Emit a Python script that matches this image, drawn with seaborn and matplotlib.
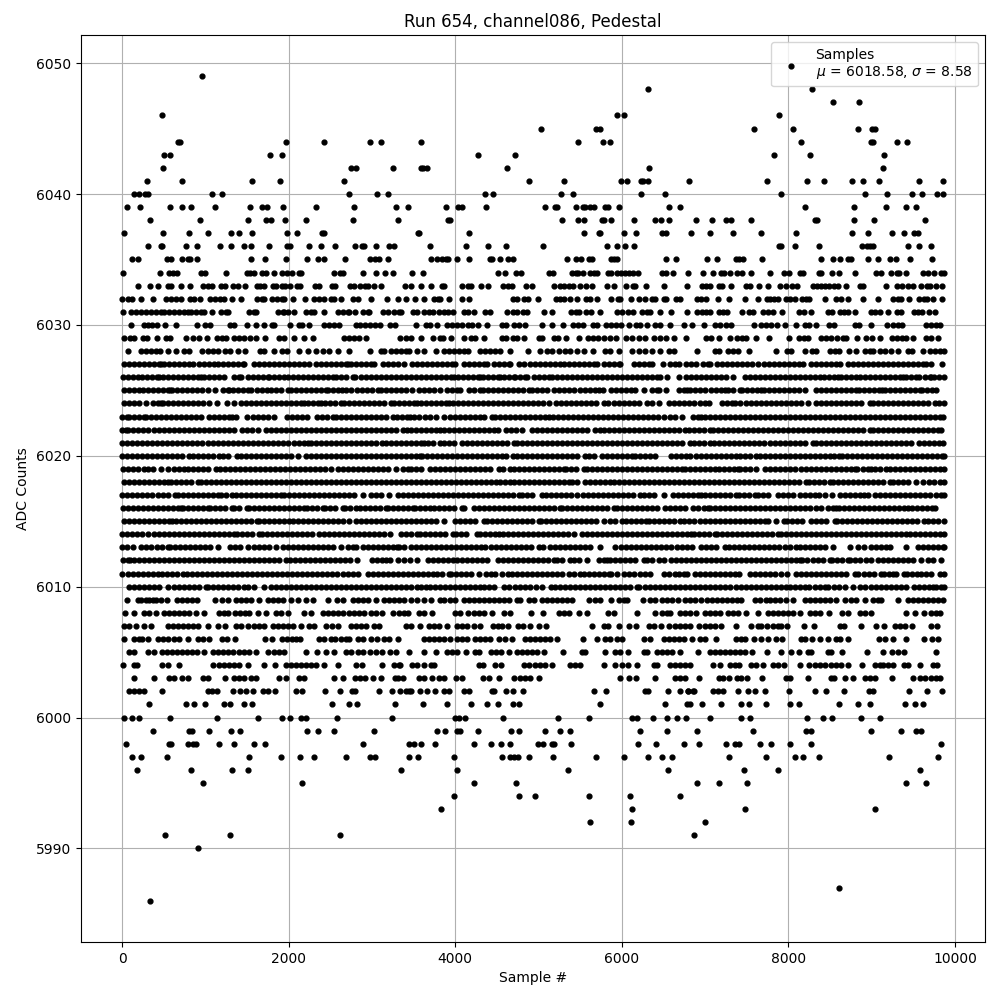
import pandas as pd
import matplotlib
matplotlib.use("Agg")
import matplotlib.pyplot as plt
import seaborn as sns

# Sample positions, one list per ADC level
s6049 = [964]
s6048 = [6309, 8283]
s6047 = [8535, 8847]
s6046 = [484, 5937, 6021, 7887]
s6045 = [5025, 5685, 5733, 7587, 8055, 8835, 9003, 9039]
s6044 = [668, 700, 1972, 2428, 2980, 3112, 3585, 5469, 5769, 5853, 8151, 8991, 9015, 9303, 9423]
s6043 = [508, 572, 1780, 1924, 4269, 4713, 7827, 8259, 9147]
s6042 = [496, 2748, 2812, 3256, 3585, 3609, 3657, 4617, 6321, 9135]
s6041 = [304, 724, 1564, 1900, 2668, 4881, 5301, 5985, 6057, 6225, 6249, 6309, 6807, 7743, 8223, 8427, 8763, 8895, 9087, 9567, 9855]
s6040 = [148, 208, 280, 316, 1084, 1204, 2728, 3064, 3196, 4353, 4449, 5265, 5409, 6225, 6513, 7911, 8919, 9183, 9483, 9603, 9783, 9855]
s6039 = [64, 220, 580, 724, 832, 1120, 1540, 1684, 1744, 1936, 2332, 2788, 3292, 3429, 3885, 4029, 4077, 4365, 5073, 5193, 5217, 5445, 5529, 5553, 5613, 5661, 5793, 5829, 5961, 6561, 6693, 8199, 8787, 9171, 9411, 9531]
s6038 = [340, 940, 1516, 1732, 1792, 1960, 2212, 2776, 3316, 3909, 3933, 5277, 5469, 5541, 5757, 5781, 5865, 6141, 6393, 6465, 6561, 6891, 7083, 7251, 7311, 7551, 8319, 8343, 8787, 9027, 9639]
s6037 = [28, 496, 808, 1036, 1312, 1408, 1564, 1984, 2104, 2404, 2428, 3549, 3561, 4161, 5541, 5721, 5733, 6021, 6165, 6477, 6525, 6825, 7059, 7335, 7671, 8091, 8763, 8955, 9243, 9387, 9507, 9555]
s6036 = [316, 468, 484, 772, 904, 1180, 1312, 1468, 1552, 1768, 1984, 2020, 2248, 2392, 2560, 2800, 2884, 2908, 3052, 3208, 3268, 3693, 4125, 4389, 4605, 5049, 5817, 5937, 6033, 6141, 7887, 7911, 8079, 8367, 8883, 8943, 8979, 9015, 9435, 9567, 9711]
s6035 = [124, 196, 544, 592, 724, 796, 820, 904, 1552, 1720, 1972, 2224, 2356, 2428, 2680, 2980, 3040, 3088, 3196, 3705, 3777, 3837, 3885, 3909, 4017, 4161, 4413, 4437, 4533, 4629, 4689, 5337, 5445, 5505, 5601, 5637, 5865, 5901, 5937, 6525, 6645, 7023, 7143, 7371, 7407, 7455, 7683, 8391, 8535, 8619, 8715, 8751, 8955, 9075, 9219, 9291, 9459, 9723]
s6034 = [16, 460, 568, 616, 664, 952, 1000, 1252, 1504, 1540, 1588, 1684, 1732, 1828, 1924, 1984, 2044, 2128, 2152, 2548, 2620, 2656, 2896, 3052, 3160, 3256, 3477, 3609, 4509, 4593, 4725, 4785, 5121, 5169, 5397, 5445, 5469, 5529, 5613, 5661, 5697, 5829, 5865, 5937, 5985, 6033, 6081, 6129, 6189, 6477, 6525, 6609, 6795, 6975, 7095, 7191, 7227, 7299, 7383, 7443, 7551, 7779, 7947, 8007, 8139, 8175, 8367, 8391, 8523, 8607, 8799, 9051, 9111, 9231, 9303, 9327, 9411, 9615, 9675, 9747, 9831, 9867]
s6033 = [188, 340, 436, 556, 592, 708, 820, 968, 1036, 1084, 1192, 1240, 1336, 1396, 1480, 1624, 1660, 1708, 1816, 1852, 1924, 1960, 2020, 2104, 2140, 2320, 2368, 2524, 2560, 2740, 2788, 2860, 2920, 2956, 3028, 3112, 3393, 3465, 3585, 3705, 3837, 3861, 4077, 4149, 4185, 4305, 4389, 4569, 4629, 4677, 4845, 4917, 5181, 5253, 5301, 5361, 5409, 5493, 5565, 5637, 5817, 5901, 6045, 6129, 6153, 6285, 6501, 6783, 6963, 7011, 7059, 7167, 7203, 7311, 7491, 7539, 7647, 7755, 7899, 7971, 8043, 8103, 8295, 8343, 8391, 8439, 8487, 8547, 8595, 8691, 8859, 8895, 9171, 9303, 9363, 9435, 9495, 9591, 9663, 9699, 9771, 9843]
s6032 = [4, 76, 124, 232, 376, 532, 592, 652, 708, 820, 868, 940, 1060, 1120, 1180, 1228, 1324, 1432, 1624, 1684, 1708, 1804, 1864, 1924, 1948, 2056, 2200, 2308, 2368, 2428, 2508, 2548, 2632, 2776, 2836, 2992, 3184, 3316, 3405, 3513, 3621, 3741, 3789, 3813, 3921, 4077, 4161, 4689, 4737, 4821, 4869, 4989, 5205, 5253, 5301, 5373, 5457, 5565, 5613, 5701, 5865, 5949, 5973, 6105, 6201, 6273, 6357, 6393, 6501, 6525, 6645, 6693, 6903, 6951, 7011, 7155, 7287, 7479, 7635, 7743, 7779, 7827, 7875, 7971, 8019, 8079, 8163, 8211, 8247, 8439, 8571, 8631, 8715, 8895, 9075, 9255, 9315, 9351, 9447, 9567, 9627, 9663, 9735, 9843]
s6031 = [8, 108, 168, 228, 288, 348, 408, 468, 508, 568, 628, 688, 748, 788, 828, 888, 948, 988, 1084, 1192, 1252, 1276, 1528, 1588, 1608, 1868, 1928, 1940, 1996, 2068, 2208, 2268, 2308, 2428, 2588, 2648, 2708, 2728, 2800, 2888, 2948, 2968, 3128, 3188, 3268, 3328, 3348, 3489, 3537, 3621, 3681, 3729, 3801, 3861, 3909, 3969, 4101, 4149, 4221, 4353, 4413, 4617, 4689, 4737, 4809, 4857, 5061, 5157, 5385, 5445, 5481, 5565, 5625, 5733, 5937, 5997, 6069, 6129, 6237, 6297, 6333, 6453, 6585, 6783, 6903, 6963, 7011, 7059, 7167, 7215, 7263, 7443, 7527, 7575, 7695, 7755, 7815, 7923, 8127, 8187, 8271, 8475, 8523, 8619, 8667, 8715, 8799, 8991, 9039, 9099, 9195, 9303, 9351, 9507, 9555, 9603, 9687, 9759]
s6030 = [112, 268, 316, 364, 424, 520, 652, 904, 1000, 1060, 1300, 1348, 1504, 1612, 1708, 1804, 1828, 2020, 2128, 2164, 2248, 2428, 2488, 2548, 2608, 2812, 2860, 2920, 2980, 3040, 3100, 3220, 3280, 3525, 3645, 3693, 3777, 3897, 3957, 4017, 4077, 4149, 4197, 4269, 4377, 4557, 4605, 4701, 4761, 4833, 5037, 5157, 5289, 5409, 5469, 5529, 5649, 5697, 5805, 5865, 5925, 5985, 6081, 6165, 6213, 6297, 6393, 6453, 6573, 6741, 6837, 6987, 7119, 7179, 7251, 7311, 7587, 7671, 7731, 7791, 7863, 7959, 8091, 8199, 8247, 8331, 8487, 8547, 8799, 8847, 8991, 9183, 9255, 9315, 9363, 9651, 9711, 9771, 9819]
s6029 = [28, 100, 148, 256, 296, 424, 532, 580, 772, 856, 928, 1024, 1140, 1200, 1248, 1340, 1408, 1468, 1540, 1608, 1720, 1888, 1948, 2068, 2180, 2296, 2668, 2728, 2788, 2848, 2932, 3340, 3408, 3468, 3585, 3729, 3813, 3849, 3945, 4101, 4185, 4233, 4341, 4557, 4605, 4689, 4737, 4821, 5001, 5037, 5181, 5229, 5325, 5481, 5589, 5649, 5709, 5781, 5853, 5925, 6045, 6117, 6201, 6273, 6381, 6453, 6525, 6621, 6765, 7011, 7071, 7167, 7299, 7383, 7443, 7491, 7611, 7767, 8007, 8127, 8187, 8235, 8391, 8451, 8511, 8583, 8655, 8691, 8823, 8931, 9003, 9099, 9243, 9303, 9363, 9411, 9495, 9651, 9711, 9795]
s6028 = [68, 228, 288, 348, 408, 460, 556, 652, 748, 808, 960, 1028, 1088, 1148, 1240, 1300, 1388, 1480, 1660, 1700, 1828, 1916, 1980, 2128, 2228, 2328, 2408, 2488, 2588, 2728, 2980, 3108, 3148, 3228, 3288, 3348, 3408, 3448, 3541, 3621, 3765, 3861, 3921, 3981, 4041, 4101, 4149, 4301, 4361, 4421, 4481, 4541, 4653, 4869, 5021, 5101, 5161, 5241, 5321, 5381, 5461, 5541, 5653, 5793, 5861, 5961, 6121, 6201, 6281, 6361, 6453, 6561, 6629, 6903, 7119, 7167, 7275, 7335, 7395, 7523, 7851, 7983, 8035, 8195, 8287, 8335, 8495, 8555, 8607, 8727, 8807, 8915, 8975, 9015, 9095, 9155, 9235, 9315, 9435, 9483, 9615, 9695, 9755, 9815, 9865]
s6027 = [28, 88, 148, 208, 268, 328, 388, 448, 468, 508, 568, 628, 688, 748, 808, 856, 928, 988, 1048, 1108, 1148, 1208, 1268, 1328, 1388, 1448, 1468, 1588, 1648, 1708, 1768, 1828, 1888, 1948, 2008, 2068, 2128, 2188, 2248, 2328, 2388, 2448, 2508, 2568, 2628, 2688, 2708, 2748, 2808, 2868, 2928, 2988, 3028, 3128, 3188, 3248, 3308, 3380, 3481, 3541, 3601, 3661, 3721, 3781, 3841, 3901, 3961, 4001, 4101, 4161, 4221, 4281, 4341, 4381, 4461, 4521, 4581, 4641, 4661, 4761, 4821, 4901, 4961, 5021, 5081, 5141, 5201, 5261, 5301, 5361, 5421, 5481, 5541, 5601, 5661, 5701, 5781, 5841, 5901, 5961, 5981, 6141, 6201, 6261, 6321, 6361, 6489, 6573, 6633, 6681, 6775, 6835, 6895, 6975, 7035, 7055, 7143, 7203, 7263, 7323, 7383, 7443, 7503, 7563, 7635, 7707, 7767, 7827, 7887, 7947, 8007, 8067, 8127, 8175, 8275, 8335, 8395, 8455, 8515, 8575, 8615, 8715, 8775, 8835, 8895, 8955, 9015, 9075, 9135, 9195, 9255, 9315, 9375, 9435, 9495, 9555, 9615, 9655, 9711, 9843]
s6026 = [16, 76, 136, 188, 236, 296, 356, 416, 448, 488, 548, 608, 668, 728, 788, 848, 908, 948, 988, 1048, 1108, 1168, 1228, 1340, 1400, 1428, 1508, 1568, 1628, 1688, 1748, 1768, 1820, 1880, 1948, 1996, 2056, 2116, 2176, 2236, 2296, 2356, 2416, 2476, 2528, 2568, 2628, 2688, 2768, 2800, 2868, 2928, 2988, 3048, 3108, 3168, 3228, 3288, 3348, 3408, 3468, 3528, 3588, 3648, 3708, 3768, 3828, 3888, 3948, 3981, 4029, 4089, 4149, 4209, 4269, 4301, 4333, 4393, 4453, 4513, 4541, 4581, 4641, 4701, 4721, 4773, 4833, 4861, 4941, 5001, 5061, 5121, 5161, 5221, 5281, 5341, 5401, 5461, 5521, 5581, 5641, 5701, 5761, 5821, 5881, 5941, 6001, 6061, 6121, 6181, 6241, 6301, 6361, 6421, 6461, 6541, 6681, 6767, 6827, 6887, 6947, 7007, 7067, 7127, 7187, 7255, 7335, 7475, 7535, 7595, 7655, 7715, 7775, 7835, 7895, 7955, 8015, 8075, 8143, 8203, 8263, 8323, 8375, 8423, 8483, 8543, 8595, 8635, 8695, 8755, 8815, 8855, 8915, 8975, 9035, 9095, 9155, 9215, 9275, 9335, 9375, 9407, 9467, 9527, 9567, 9635, 9695, 9715, 9743, 9803, 9865]
s6025 = [20, 80, 140, 200, 248, 308, 368, 428, 488, 548, 580, 596, 656, 716, 776, 836, 896, 956, 1028, 1120, 1208, 1268, 1288, 1328, 1388, 1448, 1508, 1548, 1620, 1680, 1740, 1788, 1848, 1908, 1988, 2028, 2088, 2148, 2208, 2268, 2328, 2388, 2448, 2476, 2536, 2596, 2636, 2688, 2748, 2816, 2876, 2936, 2996, 3068, 3108, 3168, 3228, 3288, 3348, 3408, 3481, 3561, 3621, 3681, 3741, 3813, 3901, 3961, 4021, 4061, 4161, 4221, 4301, 4333, 4393, 4453, 4513, 4573, 4633, 4693, 4753, 4813, 4881, 4921, 4981, 5041, 5101, 5181, 5241, 5301, 5361, 5421, 5501, 5561, 5621, 5681, 5721, 5769, 5869, 5929, 5989, 6049, 6109, 6161, 6261, 6361, 6421, 6441, 6533, 6681, 6741, 6781, 6823, 6883, 6943, 7003, 7075, 7127, 7187, 7235, 7275, 7335, 7415, 7447, 7507, 7567, 7627, 7675, 7703, 7763, 7823, 7883, 7943, 8003, 8063, 8123, 8195, 8335, 8395, 8455, 8515, 8575, 8635, 8695, 8755, 8815, 8843, 8903, 8963, 9023, 9083, 9127, 9163, 9223, 9283, 9343, 9403, 9463, 9523, 9575, 9607, 9667, 9727, 9767]
s6024 = [28, 88, 148, 208, 288, 368, 428, 468, 488, 548, 608, 668, 728, 788, 848, 908, 968, 1048, 1140, 1260, 1348, 1428, 1488, 1548, 1608, 1668, 1728, 1788, 1848, 1908, 1968, 2028, 2088, 2148, 2188, 2228, 2288, 2348, 2388, 2436, 2496, 2556, 2628, 2668, 2728, 2788, 2848, 2908, 2968, 3028, 3088, 3148, 3228, 3268, 3328, 3388, 3448, 3508, 3541, 3589, 3649, 3709, 3769, 3829, 3889, 3921, 3973, 4033, 4093, 4153, 4213, 4273, 4333, 4393, 4453, 4513, 4573, 4633, 4693, 4753, 4813, 4873, 4933, 4993, 5053, 5121, 5213, 5273, 5333, 5393, 5453, 5513, 5573, 5633, 5693, 5781, 5829, 5901, 5965, 6021, 6081, 6141, 6201, 6301, 6361, 6441, 6561, 6621, 6681, 6741, 6801, 6861, 6941, 7001, 7047, 7207, 7267, 7327, 7355, 7419, 7487, 7555, 7615, 7675, 7735, 7795, 7855, 7915, 7975, 8035, 8095, 8155, 8235, 8327, 8395, 8455, 8515, 8575, 8635, 8695, 8755, 8815, 8875, 8975, 9015, 9075, 9135, 9195, 9255, 9315, 9375, 9435, 9495, 9555, 9615, 9675, 9755, 9807, 9865]
s6023 = [0, 60, 88, 140, 200, 268, 288, 348, 408, 468, 528, 588, 648, 708, 768, 828, 888, 948, 1048, 1100, 1160, 1220, 1280, 1316, 1372, 1500, 1568, 1628, 1688, 1748, 1828, 1976, 2036, 2096, 2156, 2216, 2340, 2400, 2460, 2528, 2568, 2628, 2688, 2748, 2808, 2868, 2928, 2988, 3048, 3108, 3168, 3248, 3300, 3360, 3420, 3461, 3509, 3569, 3641, 3701, 3773, 3861, 3933, 3993, 4053, 4113, 4173, 4233, 4301, 4341, 4441, 4481, 4541, 4601, 4661, 4721, 4781, 4841, 4901, 4961, 5021, 5081, 5121, 5173, 5233, 5293, 5353, 5413, 5473, 5533, 5593, 5653, 5713, 5773, 5833, 5893, 5953, 6013, 6073, 6133, 6193, 6253, 6313, 6373, 6433, 6501, 6581, 6641, 6721, 6855, 6915, 6955, 6995, 7055, 7115, 7175, 7235, 7295, 7355, 7415, 7475, 7535, 7595, 7655, 7715, 7775, 7835, 7895, 7955, 8015, 8075, 8135, 8195, 8255, 8315, 8375, 8435, 8495, 8555, 8615, 8675, 8735, 8795, 8855, 8915, 8975, 9035, 9095, 9155, 9215, 9275, 9335, 9395, 9455, 9515, 9575, 9635, 9695, 9755, 9815, 9860]
s6022 = [0, 48, 76, 136, 196, 256, 316, 380, 448, 508, 568, 628, 688, 748, 808, 868, 928, 988, 1048, 1108, 1168, 1228, 1288, 1348, 1436, 1500, 1560, 1636, 1728, 1788, 1848, 1908, 1968, 2028, 2088, 2148, 2208, 2268, 2328, 2388, 2448, 2508, 2568, 2628, 2688, 2748, 2808, 2868, 2928, 2988, 3048, 3108, 3168, 3228, 3288, 3368, 3420, 3468, 3529, 3589, 3649, 3709, 3769, 3821, 3861, 3921, 3981, 4041, 4101, 4161, 4221, 4281, 4341, 4401, 4461, 4509, 4613, 4673, 4733, 4801, 4921, 4981, 5041, 5101, 5161, 5221, 5281, 5341, 5401, 5461, 5521, 5581, 5681, 5733, 5789, 5849, 5909, 5969, 6029, 6089, 6149, 6209, 6269, 6329, 6389, 6449, 6509, 6569, 6629, 6689, 6755, 6807, 6867, 6927, 6987, 7055, 7095, 7155, 7215, 7275, 7335, 7395, 7455, 7515, 7575, 7635, 7695, 7755, 7815, 7875, 7935, 7995, 8055, 8115, 8175, 8235, 8295, 8355, 8415, 8475, 8535, 8595, 8655, 8715, 8775, 8835, 8895, 8975, 9015, 9075, 9135, 9195, 9255, 9315, 9375, 9435, 9495, 9555, 9615, 9675, 9735, 9795, 9835]
s6021 = [0, 60, 120, 180, 240, 300, 360, 420, 480, 540, 600, 660, 720, 780, 840, 900, 960, 1028, 1088, 1148, 1208, 1268, 1328, 1388, 1448, 1508, 1568, 1628, 1688, 1748, 1808, 1868, 1928, 1988, 2068, 2128, 2188, 2228, 2268, 2328, 2388, 2448, 2508, 2568, 2628, 2688, 2748, 2808, 2868, 2928, 2988, 3048, 3116, 3168, 3228, 3288, 3348, 3408, 3468, 3528, 3588, 3629, 3669, 3729, 3813, 3861, 3921, 3981, 4085, 4145, 4205, 4265, 4325, 4385, 4445, 4505, 4565, 4625, 4701, 4741, 4801, 4861, 4921, 4981, 5041, 5101, 5161, 5221, 5281, 5341, 5401, 5461, 5521, 5581, 5641, 5701, 5761, 5821, 5881, 5941, 6001, 6061, 6121, 6181, 6241, 6301, 6361, 6421, 6481, 6541, 6601, 6661, 6721, 6815, 6863, 6923, 6983, 7055, 7103, 7163, 7223, 7283, 7343, 7403, 7463, 7523, 7583, 7643, 7703, 7775, 7835, 7895, 7955, 8015, 8075, 8135, 8195, 8295, 8327, 8387, 8447, 8507, 8567, 8627, 8687, 8747, 8807, 8867, 8927, 8987, 9047, 9107, 9167, 9227, 9287, 9347, 9407, 9467, 9567, 9623, 9683, 9743, 9803, 9855]
s6020 = [0, 60, 120, 180, 240, 300, 360, 420, 480, 540, 600, 660, 720, 808, 848, 908, 968, 1028, 1088, 1168, 1208, 1268, 1380, 1428, 1488, 1548, 1608, 1668, 1728, 1788, 1848, 1908, 1968, 2028, 2108, 2208, 2268, 2328, 2388, 2448, 2508, 2568, 2628, 2688, 2748, 2808, 2868, 2928, 2988, 3048, 3108, 3168, 3228, 3288, 3348, 3408, 3468, 3528, 3573, 3601, 3661, 3721, 3781, 3841, 3901, 3961, 4021, 4081, 4141, 4201, 4261, 4321, 4381, 4441, 4501, 4561, 4613, 4693, 4741, 4801, 4861, 4921, 4981, 5041, 5101, 5161, 5221, 5281, 5341, 5401, 5461, 5561, 5601, 5661, 5761, 5821, 5881, 5941, 6001, 6061, 6121, 6161, 6221, 6281, 6341, 6401, 6589, 6649, 6709, 6769, 6821, 6887, 6947, 7007, 7075, 7127, 7187, 7247, 7307, 7375, 7415, 7475, 7535, 7615, 7655, 7715, 7775, 7835, 7895, 7955, 8015, 8075, 8135, 8195, 8255, 8315, 8375, 8435, 8495, 8543, 8607, 8647, 8707, 8767, 8827, 8887, 8947, 9007, 9067, 9127, 9187, 9247, 9307, 9367, 9427, 9487, 9547, 9607, 9667, 9727, 9787, 9847, 9865]
s6019 = [8, 68, 128, 188, 268, 316, 376, 468, 548, 620, 680, 748, 788, 848, 908, 968, 1028, 1128, 1180, 1240, 1300, 1360, 1420, 1480, 1540, 1600, 1660, 1720, 1780, 1840, 1900, 1960, 2020, 2080, 2140, 2200, 2260, 2320, 2380, 2440, 2508, 2588, 2648, 2708, 2768, 2828, 2888, 2948, 3008, 3068, 3128, 3188, 3288, 3368, 3428, 3468, 3528, 3589, 3701, 3761, 3821, 3881, 3941, 4001, 4061, 4121, 4181, 4241, 4301, 4361, 4421, 4521, 4573, 4661, 4701, 4761, 4821, 4881, 4941, 5001, 5061, 5121, 5181, 5241, 5301, 5333, 5393, 5453, 5541, 5581, 5641, 5701, 5761, 5821, 5881, 5941, 6001, 6061, 6121, 6181, 6241, 6301, 6361, 6421, 6481, 6541, 6601, 6661, 6721, 6755, 6815, 6875, 6935, 6995, 7055, 7115, 7167, 7223, 7283, 7343, 7395, 7423, 7483, 7543, 7615, 7715, 7775, 7835, 7895, 7955, 8015, 8075, 8155, 8207, 8267, 8327, 8387, 8447, 8507, 8567, 8627, 8687, 8747, 8795, 8823, 8895, 8955, 8995, 9035, 9095, 9175, 9215, 9275, 9335, 9395, 9455, 9515, 9575, 9635, 9695, 9755, 9815, 9865]
s6018 = [20, 80, 140, 200, 260, 320, 380, 440, 500, 548, 588, 648, 708, 768, 828, 916, 948, 1008, 1068, 1128, 1188, 1248, 1308, 1368, 1428, 1488, 1548, 1608, 1668, 1728, 1788, 1848, 1908, 1968, 2028, 2088, 2148, 2208, 2268, 2328, 2388, 2448, 2508, 2568, 2628, 2688, 2748, 2808, 2868, 2928, 2988, 3048, 3108, 3168, 3228, 3288, 3348, 3408, 3468, 3528, 3588, 3648, 3708, 3768, 3828, 3888, 3948, 4008, 4068, 4128, 4188, 4248, 4308, 4368, 4428, 4493, 4533, 4593, 4653, 4709, 4761, 4821, 4881, 4941, 5001, 5061, 5121, 5181, 5241, 5301, 5361, 5401, 5461, 5553, 5613, 5673, 5733, 5793, 5861, 5909, 5969, 6029, 6089, 6149, 6209, 6269, 6329, 6389, 6449, 6509, 6569, 6629, 6689, 6749, 6809, 6869, 6929, 6989, 7049, 7109, 7169, 7229, 7289, 7349, 7409, 7469, 7529, 7589, 7649, 7709, 7769, 7829, 7889, 7949, 8009, 8069, 8129, 8207, 8247, 8307, 8367, 8427, 8495, 8535, 8595, 8655, 8715, 8775, 8835, 8895, 8955, 9015, 9075, 9135, 9215, 9255, 9315, 9375, 9435, 9527, 9615, 9687, 9747, 9823, 9863]
s6017 = [0, 60, 120, 180, 240, 300, 356, 428, 488, 548, 640, 668, 728, 788, 848, 908, 968, 1028, 1088, 1156, 1188, 1248, 1316, 1368, 1428, 1488, 1548, 1608, 1668, 1728, 1788, 1848, 1908, 1948, 2008, 2068, 2128, 2188, 2248, 2308, 2368, 2428, 2488, 2548, 2608, 2668, 2728, 2788, 2888, 2988, 3048, 3108, 3208, 3316, 3376, 3436, 3496, 3556, 3616, 3676, 3736, 3796, 3856, 3916, 3976, 4036, 4096, 4156, 4216, 4276, 4336, 4396, 4456, 4516, 4576, 4636, 4696, 4761, 4801, 4861, 4921, 5041, 5093, 5153, 5213, 5273, 5333, 5393, 5461, 5533, 5593, 5653, 5713, 5773, 5833, 5893, 5953, 6013, 6073, 6133, 6221, 6261, 6321, 6381, 6501, 6613, 6673, 6733, 6793, 6853, 6913, 6955, 6995, 7055, 7115, 7175, 7235, 7295, 7375, 7407, 7467, 7527, 7595, 7635, 7695, 7755, 7875, 7935, 7995, 8055, 8143, 8199, 8263, 8323, 8367, 8435, 8527, 8615, 8675, 8735, 8795, 8855, 8903, 8955, 9035, 9095, 9155, 9215, 9275, 9335, 9395, 9463, 9523, 9583, 9643, 9695, 9767, 9827, 9865]
s6016 = [8, 68, 128, 188, 248, 308, 368, 428, 488, 548, 608, 668, 708, 728, 788, 848, 908, 968, 1028, 1060, 1120, 1180, 1240, 1316, 1340, 1400, 1500, 1528, 1588, 1648, 1708, 1768, 1828, 1888, 1948, 2008, 2068, 2128, 2188, 2220, 2280, 2340, 2408, 2436, 2496, 2556, 2648, 2680, 2740, 2808, 2860, 2920, 2980, 3040, 3100, 3168, 3196, 3256, 3316, 3376, 3436, 3493, 3521, 3581, 3641, 3701, 3741, 3801, 3861, 3921, 3981, 4081, 4109, 4221, 4281, 4341, 4401, 4461, 4521, 4581, 4641, 4701, 4761, 4821, 4881, 4941, 5001, 5061, 5121, 5181, 5261, 5281, 5341, 5401, 5461, 5521, 5581, 5641, 5701, 5761, 5821, 5901, 5941, 6001, 6061, 6121, 6181, 6241, 6301, 6361, 6421, 6521, 6573, 6633, 6693, 6753, 6855, 6915, 6983, 7035, 7063, 7123, 7183, 7243, 7303, 7363, 7423, 7483, 7543, 7603, 7663, 7723, 7783, 7843, 7903, 7963, 8023, 8083, 8143, 8203, 8263, 8327, 8395, 8475, 8535, 8575, 8607, 8667, 8727, 8787, 8847, 8907, 8967, 9027, 9087, 9147, 9207, 9267, 9327, 9387, 9435, 9483, 9543, 9603, 9663, 9723, 9755]
s6015 = [20, 80, 140, 200, 260, 320, 380, 440, 500, 560, 600, 648, 708, 768, 828, 888, 948, 1008, 1068, 1128, 1188, 1248, 1308, 1368, 1428, 1488, 1548, 1620, 1648, 1708, 1768, 1828, 1888, 1948, 2008, 2048, 2108, 2168, 2228, 2288, 2348, 2408, 2468, 2528, 2588, 2648, 2728, 2808, 2868, 2928, 2988, 3048, 3108, 3168, 3228, 3288, 3348, 3408, 3468, 3528, 3588, 3648, 3708, 3768, 3861, 4001, 4061, 4121, 4181, 4241, 4341, 4381, 4441, 4501, 4561, 4621, 4681, 4741, 4801, 4861, 4921, 5001, 5029, 5089, 5149, 5209, 5269, 5329, 5389, 5449, 5509, 5569, 5629, 5689, 5789, 5861, 5921, 6001, 6053, 6113, 6173, 6233, 6293, 6321, 6381, 6441, 6501, 6561, 6621, 6693, 6749, 6809, 6869, 6941, 6995, 7055, 7115, 7175, 7235, 7295, 7355, 7415, 7475, 7535, 7595, 7655, 7715, 7755, 7847, 7943, 7983, 8043, 8103, 8163, 8275, 8335, 8395, 8455, 8555, 8583, 8643, 8703, 8763, 8823, 8883, 8943, 9003, 9063, 9123, 9183, 9243, 9303, 9363, 9423, 9483, 9543, 9623, 9675, 9735, 9795, 9865]
s6014 = [0, 60, 120, 180, 240, 316, 380, 440, 500, 560, 620, 680, 740, 800, 860, 920, 980, 1040, 1100, 1160, 1220, 1280, 1348, 1380, 1440, 1500, 1560, 1648, 1676, 1736, 1796, 1856, 1916, 1976, 2036, 2096, 2156, 2216, 2276, 2368, 2428, 2488, 2548, 2608, 2668, 2728, 2788, 2848, 2908, 2968, 3028, 3088, 3148, 3220, 3348, 3408, 3468, 3541, 3581, 3641, 3701, 3761, 3821, 3881, 3973, 4013, 4073, 4133, 4261, 4301, 4361, 4421, 4481, 4521, 4573, 4633, 4693, 4753, 4813, 4873, 4933, 4993, 5053, 5113, 5173, 5233, 5293, 5353, 5421, 5521, 5581, 5641, 5701, 5761, 5821, 5881, 5941, 6001, 6061, 6121, 6181, 6241, 6301, 6361, 6421, 6481, 6541, 6601, 6661, 6721, 6781, 6835, 6863, 6923, 6983, 7043, 7115, 7143, 7203, 7263, 7323, 7383, 7443, 7503, 7563, 7623, 7683, 7743, 7803, 7875, 7915, 7975, 8035, 8095, 8155, 8215, 8275, 8335, 8395, 8455, 8515, 8575, 8635, 8695, 8755, 8815, 8875, 8935, 8995, 9055, 9115, 9175, 9235, 9295, 9355, 9415, 9463, 9523, 9583, 9643, 9703, 9763, 9823, 9865]
s6013 = [0, 60, 128, 228, 288, 348, 420, 476, 548, 580, 640, 700, 760, 820, 880, 940, 1000, 1060, 1148, 1300, 1360, 1420, 1508, 1580, 1640, 1700, 1760, 1848, 1928, 1988, 2048, 2108, 2168, 2228, 2288, 2348, 2408, 2468, 2528, 2628, 2708, 2768, 2808, 2888, 2948, 3008, 3068, 3128, 3188, 3248, 3300, 3328, 3388, 3468, 3529, 3589, 3649, 3709, 3769, 3829, 3889, 3949, 4009, 4069, 4129, 4189, 4249, 4309, 4361, 4429, 4489, 4549, 4609, 4669, 4729, 4789, 4849, 4909, 5001, 5053, 5141, 5201, 5261, 5321, 5381, 5441, 5501, 5561, 5621, 5733, 5921, 5989, 6049, 6109, 6169, 6229, 6289, 6349, 6409, 6469, 6529, 6589, 6661, 6721, 6781, 6841, 6955, 7015, 7075, 7135, 7235, 7287, 7347, 7407, 7467, 7527, 7587, 7647, 7707, 7767, 7827, 7887, 7955, 8015, 8095, 8143, 8203, 8263, 8323, 8383, 8443, 8535, 8735, 8835, 8903, 8995, 9055, 9115, 9175, 9223, 9415, 9555, 9615, 9675, 9735, 9795, 9855, 9865]
s6012 = [8, 68, 100, 148, 208, 268, 328, 388, 448, 508, 568, 628, 688, 748, 808, 868, 928, 988, 1048, 1108, 1168, 1228, 1288, 1348, 1408, 1468, 1528, 1588, 1648, 1708, 1768, 1828, 1888, 1968, 2020, 2080, 2140, 2200, 2260, 2320, 2380, 2440, 2500, 2560, 2620, 2680, 2740, 2820, 2996, 3056, 3116, 3168, 3220, 3308, 3388, 3461, 3541, 3669, 3729, 3789, 3849, 3909, 3969, 4021, 4081, 4141, 4201, 4261, 4321, 4381, 4509, 4569, 4629, 4689, 4749, 4809, 4869, 4929, 4989, 5049, 5109, 5181, 5221, 5281, 5381, 5421, 5481, 5581, 5721, 5781, 5821, 5861, 5921, 5981, 6041, 6101, 6161, 6261, 6301, 6361, 6441, 6501, 6589, 6649, 6709, 6769, 6829, 6889, 6949, 7009, 7069, 7129, 7189, 7249, 7309, 7369, 7429, 7489, 7549, 7609, 7669, 7729, 7789, 7849, 7909, 7969, 8029, 8089, 8135, 8167, 8227, 8295, 8355, 8415, 8495, 8527, 8587, 8647, 8715, 8743, 8803, 8863, 8927, 8991, 9075, 9135, 9195, 9255, 9315, 9375, 9435, 9495, 9595, 9675, 9735, 9835]
s6011 = [0, 68, 128, 188, 248, 308, 368, 428, 476, 536, 596, 656, 728, 780, 840, 900, 960, 1020, 1080, 1140, 1200, 1260, 1320, 1380, 1436, 1496, 1556, 1616, 1676, 1736, 1796, 1856, 1916, 1976, 2036, 2096, 2156, 2216, 2276, 2336, 2396, 2456, 2516, 2576, 2648, 2716, 2776, 2836, 2948, 3008, 3068, 3128, 3188, 3248, 3308, 3368, 3428, 3488, 3548, 3608, 3668, 3733, 3781, 3841, 3921, 3949, 4009, 4069, 4129, 4189, 4281, 4373, 4433, 4481, 4561, 4629, 4681, 4741, 4801, 4861, 4921, 4981, 5041, 5101, 5161, 5221, 5281, 5361, 5429, 5501, 5549, 5601, 5661, 5721, 5781, 5841, 5869, 5941, 6029, 6089, 6149, 6221, 6273, 6341, 6501, 6561, 6641, 6681, 6741, 6781, 6881, 6941, 6995, 7055, 7115, 7175, 7235, 7295, 7355, 7407, 7543, 7603, 7663, 7723, 7783, 7843, 7915, 7983, 8095, 8155, 8215, 8275, 8335, 8395, 8455, 8515, 8575, 8635, 8695, 8795, 8835, 8903, 8963, 9023, 9115, 9143, 9203, 9255, 9295, 9383, 9423, 9483, 9543, 9595, 9655, 9715, 9815, 9865]
s6010 = [88, 148, 208, 268, 328, 388, 448, 548, 628, 688, 748, 808, 868, 928, 1008, 1036, 1096, 1156, 1208, 1268, 1328, 1388, 1468, 1508, 1588, 1700, 1788, 1848, 1908, 1968, 2028, 2088, 2148, 2208, 2268, 2328, 2388, 2448, 2508, 2568, 2628, 2688, 2748, 2808, 2868, 2928, 2988, 3048, 3108, 3168, 3228, 3288, 3348, 3408, 3468, 3541, 3589, 3653, 3701, 3761, 3821, 3881, 3941, 4001, 4061, 4121, 4181, 4241, 4301, 4349, 4409, 4469, 4581, 4641, 4721, 4781, 4841, 4901, 4973, 5041, 5149, 5201, 5261, 5321, 5381, 5441, 5501, 5561, 5621, 5681, 5741, 5801, 5861, 5921, 5981, 6041, 6101, 6181, 6205, 6281, 6341, 6401, 6461, 6521, 6581, 6641, 6701, 6761, 6821, 6881, 6941, 7001, 7061, 7121, 7181, 7241, 7301, 7375, 7435, 7495, 7555, 7615, 7675, 7735, 7795, 7855, 7915, 7975, 8023, 8075, 8135, 8195, 8247, 8319, 8375, 8435, 8475, 8543, 8603, 8675, 8775, 8855, 8915, 8995, 9055, 9115, 9175, 9235, 9295, 9355, 9415, 9503, 9563, 9623, 9683, 9735, 9775, 9835, 9865]
s6009 = [60, 188, 228, 288, 328, 368, 408, 468, 540, 660, 720, 780, 840, 900, 1116, 1196, 1268, 1368, 1428, 1488, 1548, 1648, 1748, 1808, 1868, 1928, 2028, 2108, 2208, 2296, 2476, 2580, 2648, 2768, 2828, 2888, 2948, 3048, 3148, 3208, 3268, 3328, 3388, 3468, 3541, 3621, 3709, 3821, 3861, 3933, 4001, 4101, 4161, 4221, 4281, 4341, 4401, 4461, 4521, 4581, 4641, 4741, 4773, 4881, 4941, 5041, 5101, 5161, 5221, 5281, 5341, 5401, 5601, 5681, 5741, 5869, 5961, 6021, 6061, 6249, 6341, 6401, 6481, 6541, 6601, 6669, 6753, 6823, 6875, 6955, 7023, 7087, 7147, 7207, 7267, 7327, 7387, 7435, 7595, 7655, 7735, 7783, 7843, 7903, 7975, 8055, 8195, 8255, 8315, 8375, 8435, 8495, 8567, 8675, 8755, 8815, 8915, 9015, 9075, 9115, 9315, 9435, 9495, 9555, 9615, 9675, 9735, 9795, 9855]
s6008 = [36, 148, 268, 328, 408, 508, 568, 628, 688, 748, 808, 888, 980, 1168, 1228, 1268, 1356, 1416, 1476, 1528, 1628, 1732, 1848, 1908, 1988, 2180, 2268, 2408, 2468, 2528, 2588, 2648, 2728, 2788, 2848, 2908, 2988, 3052, 3116, 3248, 3328, 3388, 3429, 3561, 3621, 3721, 4001, 4061, 4149, 4221, 4281, 4341, 4441, 4581, 4653, 4905, 5049, 5241, 5301, 5361, 5481, 5581, 5829, 5901, 6177, 6393, 6481, 6541, 6581, 6701, 6761, 6821, 6895, 6995, 7055, 7115, 7175, 7275, 7335, 7395, 7495, 7635, 7755, 7815, 7875, 7935, 7995, 8055, 8135, 8263, 8315, 8383, 8487, 8647, 8715, 8855, 8915, 8995, 9415, 9519, 9623, 9715, 9775, 9815]
s6007 = [20, 88, 172, 260, 348, 556, 616, 676, 736, 796, 856, 908, 1036, 1156, 1236, 1368, 1428, 1508, 1580, 1648, 1708, 1816, 1876, 1936, 1996, 2056, 2148, 2248, 2308, 2444, 2516, 2588, 2748, 2808, 2868, 2932, 3028, 3088, 3408, 3468, 3581, 3681, 3741, 3801, 3901, 4021, 4081, 4141, 4221, 4293, 4453, 4513, 4561, 4629, 4749, 4809, 4901, 5001, 5089, 5637, 5781, 5829, 5965, 6081, 6173, 6321, 6381, 6465, 6561, 6641, 6701, 6761, 6821, 6921, 6995, 7055, 7115, 7195, 7371, 7551, 7635, 7675, 7743, 7815, 7875, 7915, 7983, 8187, 8303, 8615, 8663, 8871, 9051, 9143, 9275, 9335, 9395, 9487, 9711, 9783]
s6006 = [28, 148, 208, 236, 316, 428, 488, 548, 628, 688, 796, 916, 976, 1048, 1200, 1260, 1356, 1720, 1796, 1916, 1976, 2036, 2088, 2140, 2368, 2428, 2508, 2560, 2628, 2688, 2728, 2828, 2888, 2988, 3064, 3148, 3208, 3308, 3621, 3681, 3741, 3801, 3861, 3941, 4021, 4081, 4141, 4241, 4301, 4361, 4421, 4521, 4593, 4681, 4841, 4901, 4961, 5021, 5081, 5141, 5221, 5529, 5697, 5801, 5861, 5941, 6001, 6261, 6341, 6501, 6561, 6621, 6681, 6741, 6841, 6941, 6995, 7131, 7367, 7427, 7475, 7591, 7675, 7755, 7855, 7919, 8155, 8195, 8283, 8379, 8475, 8575, 8615, 8715, 9087, 9159, 9255, 9411, 9627, 9727, 9795]
s6005 = [88, 140, 308, 388, 476, 536, 596, 656, 716, 776, 836, 896, 988, 1088, 1148, 1208, 1268, 1328, 1408, 1468, 1528, 1608, 1748, 1828, 1888, 1940, 2208, 2344, 2452, 2544, 2688, 2748, 2828, 2896, 2980, 3048, 3124, 3212, 3288, 3448, 3621, 3765, 3901, 3961, 4021, 4133, 4241, 4281, 4429, 4489, 4549, 4641, 4741, 4801, 4861, 4921, 4977, 5061, 5289, 5521, 5561, 5793, 5921, 5981, 6069, 6261, 6301, 6421, 6481, 6541, 6601, 6701, 6915, 7063, 7123, 7183, 7243, 7303, 7363, 7423, 7483, 7567, 7743, 7911, 8031, 8127, 8235, 8275, 8475, 8515, 8643, 8943, 9135, 9243, 9315, 9387, 9775]
s6004 = [16, 140, 180, 476, 548, 688, 1088, 1168, 1228, 1288, 1348, 1408, 1508, 1708, 1840, 1968, 2028, 2088, 2148, 2208, 2268, 2328, 2428, 2596, 2808, 2876, 3124, 3260, 3320, 3341, 3481, 3541, 3621, 3709, 3749, 4289, 4333, 4477, 4549, 4821, 4881, 4961, 5021, 5081, 5161, 5381, 5441, 5501, 5781, 5913, 6001, 6069, 6177, 6381, 6421, 6573, 6633, 6693, 6753, 6815, 7095, 7183, 7295, 7355, 7407, 7551, 7611, 7695, 7815, 7875, 7943, 8139, 8247, 8315, 8375, 8435, 8507, 8567, 8627, 8715, 8879, 9035, 9095, 9135, 9195, 9255, 9383, 9439, 9579, 9735, 9783]
s6003 = [148, 388, 568, 628, 724, 796, 968, 1036, 1240, 1348, 1408, 1468, 1548, 1612, 1888, 1972, 2128, 2188, 2548, 2656, 2800, 2860, 2920, 3008, 3108, 3280, 3308, 3369, 3561, 3621, 3721, 3801, 3861, 4013, 4085, 4333, 4401, 4521, 4709, 4781, 4841, 4901, 5001, 5973, 6081, 6165, 6393, 6641, 6701, 6761, 6927, 7167, 7215, 7287, 7383, 7435, 7503, 7683, 7975, 8023, 8235, 8515, 8543, 8679, 8775, 8915, 8975, 9035, 9243, 9495, 9583, 9639, 9715, 9775, 9815]
s6002 = [88, 148, 208, 268, 484, 1028, 1076, 1144, 1336, 1420, 1488, 1576, 1696, 1756, 1836, 2088, 2156, 2440, 2620, 2756, 2800, 3088, 3244, 3340, 3408, 3448, 3465, 3573, 3657, 3753, 3861, 3921, 4101, 4161, 4437, 4469, 4605, 4689, 4809, 5661, 5805, 6281, 6309, 6549, 6701, 6789, 6861, 6795, 6855, 7095, 7155, 7215, 7395, 7515, 7595, 7719, 8007, 8319, 8451, 8667, 8967, 9015, 9447, 9663, 9843]
s6001 = [320, 772, 868, 1000, 1228, 1300, 1468, 1564, 2524, 2728, 2824, 3280, 3609, 3897, 4189, 4377, 4509, 4689, 4761, 5733, 6513, 6781, 6821, 6963, 7191, 7431, 7527, 7731, 8019, 8127, 8607, 8835, 8979, 9399, 9519, 9615]
s6000 = [28, 124, 208, 580, 1144, 1636, 1920, 2020, 2152, 2212, 2584, 3244, 3993, 4045, 4113, 4569, 5229, 5601, 6117, 6177, 6369, 6537, 6657, 6771, 7059, 7431, 7539, 8223, 8415, 8523, 8871, 9099]
s5999 = [376, 808, 844, 1048, 1312, 1420, 2224, 2356, 2548, 3028, 3777, 3873, 4017, 4053, 4269, 4665, 4761, 5073, 5253, 5373, 6213, 6537, 6903, 7575, 8211, 8271, 8991, 9351, 9531, 9591]
s5998 = [52, 568, 592, 796, 856, 892, 1168, 1348, 1588, 1720, 2896, 3441, 3501, 3585, 3753, 4221, 4425, 4545, 4653, 4989, 5049, 5157, 5181, 5385, 6189, 6405, 6741, 6927, 7251, 7359, 7407, 7659, 7791, 8019, 8271, 9831]
s5997 = [124, 232, 544, 1528, 1912, 2140, 2308, 2692, 2980, 3040, 3448, 3549, 3981, 4557, 4653, 4701, 4749, 4881, 5169, 5685, 6021, 6309, 6477, 6597, 7287, 7731, 8079, 8175, 8367, 9207, 9795]
s5996 = [184, 832, 1324, 1516, 3352, 4017, 5349, 6549, 7467, 7875, 9579]
s5995 = [976, 2164, 4221, 4725, 6903, 7167, 7503, 9411, 9651]
s5994 = [3981, 4761, 4953, 5601, 6093, 6700]
s5993 = [3825, 6117, 7479, 9039]
s5992 = [5613, 6105, 6999]
s5991 = [520, 1300, 2620, 6870]
s5990 = [916]
s5987 = [8607]
s5986 = [340]

levels = [6049, 6048, 6047, 6046, 6045, 6044, 6043, 6042, 6041, 6040, 6039, 6038, 6037, 6036, 6035, 6034, 6033, 6032, 6031, 6030,
          6029, 6028, 6027, 6026, 6025, 6024, 6023, 6022, 6021, 6020, 6019, 6018, 6017, 6016, 6015, 6014, 6013, 6012, 6011, 6010,
          6009, 6008, 6007, 6006, 6005, 6004, 6003, 6002, 6001, 6000, 5999, 5998, 5997, 5996, 5995, 5994, 5993, 5992, 5991, 5990,
          5987, 5986]
rows = [s6049, s6048, s6047, s6046, s6045, s6044, s6043, s6042, s6041, s6040, s6039, s6038, s6037, s6036, s6035, s6034, s6033, s6032, s6031, s6030,
        s6029, s6028, s6027, s6026, s6025, s6024, s6023, s6022, s6021, s6020, s6019, s6018, s6017, s6016, s6015, s6014, s6013, s6012, s6011, s6010,
        s6009, s6008, s6007, s6006, s6005, s6004, s6003, s6002, s6001, s6000, s5999, s5998, s5997, s5996, s5995, s5994, s5993, s5992, s5991, s5990,
        s5987, s5986]

df = pd.DataFrame({"adc": levels, "sample": rows}).explode("sample")
df["sample"] = df["sample"].astype(int)

fig, ax = plt.subplots(figsize=(10, 10), dpi=100)
sns.scatterplot(data=df, x="sample", y="adc", color="black", s=12, linewidth=1, edgecolor="black",
                zorder=3, ax=ax, label="Samples\n$\\mu$ = 6018.58, $\\sigma$ = 8.58")
ax.grid(True)
ax.set_title("Run 654, channel086, Pedestal")
ax.set_xlabel("Sample #")
ax.set_ylabel("ADC Counts")
ax.legend(loc="upper right")
fig.subplots_adjust(left=0.081, right=0.985, top=0.965, bottom=0.058)
plt.savefig("out.png", dpi=100)
